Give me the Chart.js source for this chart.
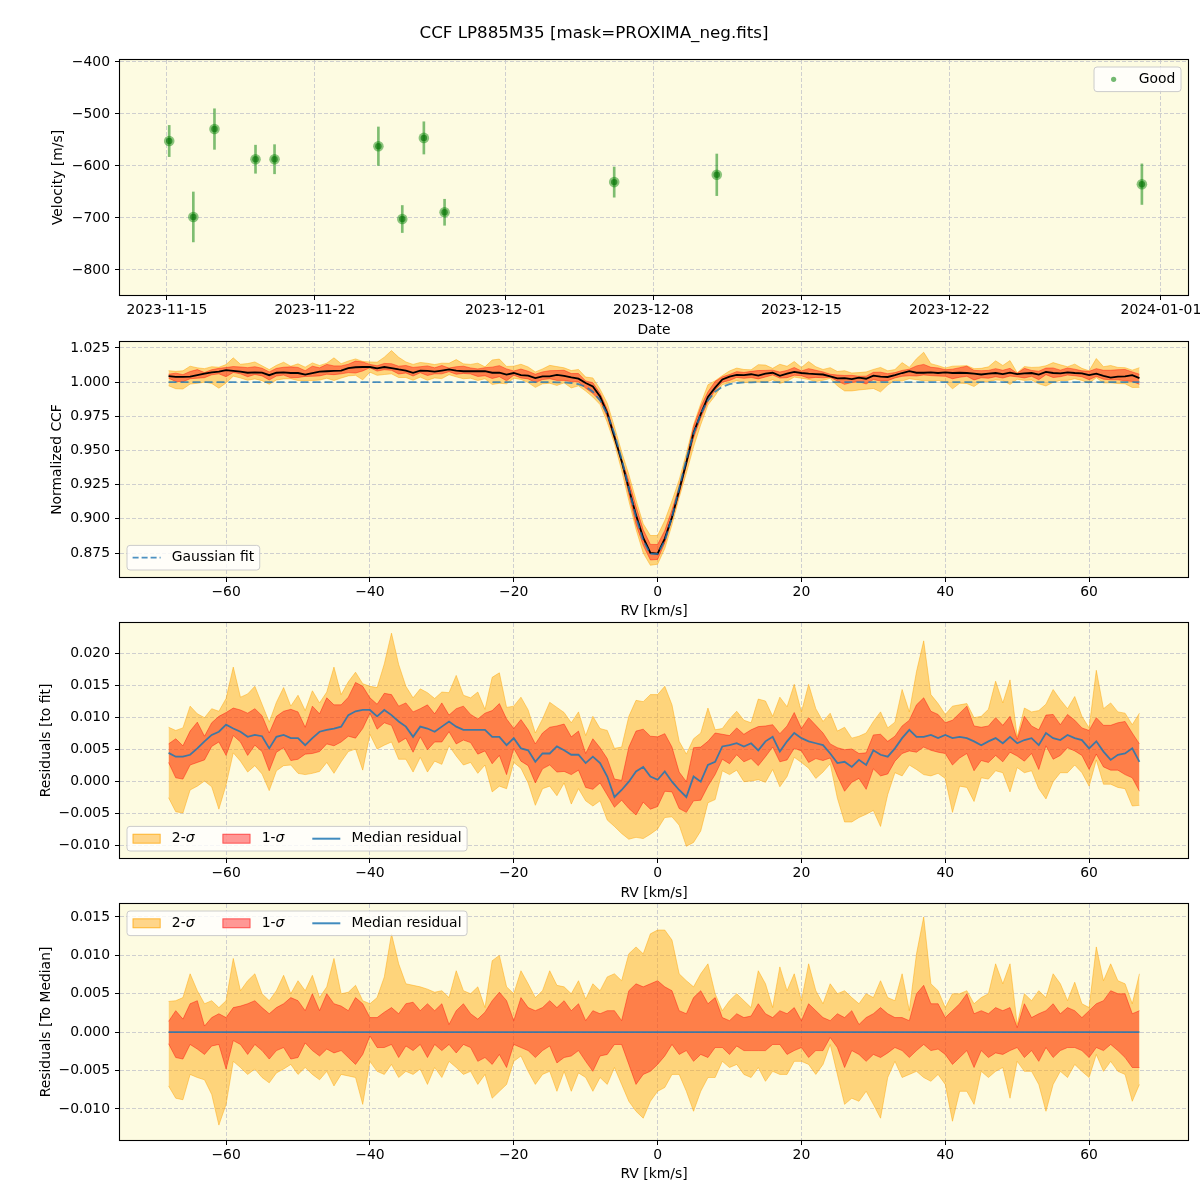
<!DOCTYPE html>
<html>
<head>
<meta charset="utf-8">
<script src="https://cdn.jsdelivr.net/npm/chart.js@4.4.0/dist/chart.umd.min.js"></script>
<style>
  body { margin: 0; background: #fff; }
  #wrap { position: relative; width: 1200px; height: 1200px; }
  canvas { position: absolute; left: 0; }
</style>
</head>
<body>
<div id="wrap">
  <canvas id="c1" width="1200" height="342" style="top:0px"></canvas>
  <canvas id="c2" width="1200" height="283" style="top:340px"></canvas>
  <canvas id="c3" width="1200" height="283" style="top:621px"></canvas>
  <canvas id="c4" width="1200" height="298" style="top:902px"></canvas>
</div>
<script>
// ---- panel 1: velocities per observation ----
var obsTimes = ['2023-11-15T02:38Z', '2023-11-16T06:00Z', '2023-11-17T06:00Z', '2023-11-19T04:34Z',
                '2023-11-20T02:10Z', '2023-11-25T00:00Z', '2023-11-26T03:07Z', '2023-11-27T03:36Z',
                '2023-11-28T03:07Z', '2023-12-06T03:36Z', '2023-12-11T00:00Z', '2023-12-31T02:24Z'];
var obsVel = [-552, -698, -529, -587, -587, -562, -702, -546, -689, -631, -617, -635];
var obsErr = [30, 48, 39, 27, 28, 37, 26, 31, 25, 29, 40, 39];
var dateTicks = ['2023-11-15', '2023-11-22', '2023-12-01', '2023-12-08', '2023-12-15', '2023-12-22', '2024-01-01'];
var velTicks = [-800, -700, -600, -500, -400];

// ---- panels 2-4: CCF on the RV grid [km/s] ----
var rvGrid = [-68,-67,-66,-65,-64,-63,-62,-61,-60,-59,-58,-57,-56,-55,-54,-53,-52,-51,-50,-49,
  -48,-47,-46,-45,-44,-43,-42,-41,-40,-39,-38,-37,-36,-35,-34,-33,-32,-31,-30,-29,
  -28,-27,-26,-25,-24,-23,-22,-21,-20,-19,-18,-17,-16,-15,-14,-13,-12,-11,-10,-9,
  -8,-7,-6,-5,-4,-3,-2,-1,0,1,2,3,4,5,6,7,8,9,10,11,
  12,13,14,15,16,17,18,19,20,21,22,23,24,25,26,27,28,29,30,31,
  32,33,34,35,36,37,38,39,40,41,42,43,44,45,46,47,48,49,50,51,
  52,53,54,55,56,57,58,59,60,61,62,63,64,65,66,67];

// Gaussian fit of the CCF
var ccfFit = [1,1,1,1,1,1,1,1,1,1,1,1,1,1,1,1,1,1,1,1,
  1,1,1,1,1,1,1,1,1,1,1,1,1,1,1,1,1,1,1,1,
  1,1,1,1,1,1,1,1,1,1,1,1,1,1,0.9999,0.9998,0.9994,0.9985,0.9966,0.9930,
  0.9867,0.9767,0.9623,0.9437,0.9223,0.9012,0.8840,0.8743,0.8743,0.8840,0.9012,0.9223,0.9437,0.9623,0.9767,0.9867,0.9930,0.9966,0.9985,0.9994,
  0.9998,0.9999,1,1,1,1,1,1,1,1,1,1,1,1,1,1,1,1,1,1,
  1,1,1,1,1,1,1,1,1,1,1,1,1,1,1,1,1,1,1,1,
  1,1,1,1,1,1,1,1,1,1,1,1,1,1,1,1];

// median residual to the fit, in units of 1e-3
var resMed = [4.4,3.8,3.8,4.1,5.1,6.2,7.2,7.7,8.8,8.2,7.7,6.9,7.2,7.0,5.1,6.9,7.2,6.7,6.7,5.6,
  6.7,7.7,8.0,8.2,8.5,10.3,10.9,11.1,11.1,10.1,11.1,10.3,9.3,8.5,6.9,8.5,8.2,7.7,8.5,9.3,
  8.5,8.0,8.0,8.0,8.0,6.9,6.9,5.6,6.7,5.1,4.8,3.0,4.3,4.3,5.4,4.8,4.1,4.1,2.8,3.8,
  2.8,0.7,-2.5,-1.4,-0.1,1.5,2.2,0.7,0.2,1.5,-0.1,-1.4,-2.5,0.7,-0.1,2.5,3.0,5.4,5.6,5.9,
  5.4,5.9,4.8,6.2,6.9,4.6,6.2,7.5,6.7,6.2,5.9,5.6,4.3,2.8,3.0,2.2,3.3,2.5,4.8,4.1,
  3.8,5.1,6.7,8.0,6.9,6.9,7.2,6.7,7.2,6.7,6.9,6.7,6.2,5.6,6.2,6.7,5.9,6.9,5.9,6.4,
  6.7,5.6,7.5,6.7,6.4,7.2,6.7,6.4,5.1,6.2,4.6,3.3,4.1,4.3,5.1,3.0];

// spread around the median, in units of 1e-3
var dev2Hi = [4.0,4.1,4.5,7.6,5.4,3.7,4.1,3.2,4.1,9.6,5.4,6.7,7.6,5.0,4.1,5.4,7.4,5.0,6.7,5.4,
  7.4,4.5,5.9,9.6,5.0,5.2,6.1,4.1,3.7,4.5,7.2,12.8,8.9,6.3,6.1,5.9,5.6,5.2,5.4,4.5,
  8.0,5.4,5.0,5.9,3.2,9.3,10.0,5.9,5.0,8.0,6.3,4.5,5.4,8.0,6.1,5.9,5.0,6.7,4.3,6.3,
  5.4,7.2,7.6,6.7,10.2,11.1,10.2,12.8,13.3,13.3,12.0,7.6,6.7,5.9,7.6,8.9,5.0,2.8,4.1,5.0,
  4.1,3.2,8.0,6.3,3.2,8.5,5.4,7.6,4.1,8.9,5.4,3.7,6.3,5.0,5.4,4.5,3.7,5.0,4.5,6.7,
  4.5,4.1,7.6,2.8,10.2,15.0,6.3,5.4,3.2,5.0,5.0,5.4,3.7,4.5,5.0,8.9,6.3,8.9,1.0,5.0,
  4.1,5.4,4.5,7.6,6.3,4.1,6.5,3.7,3.2,11.1,6.7,8.9,6.7,6.3,3.7,7.6];
var dev1Hi = [1.4,2.8,1.7,3.7,4.1,0.8,1.9,2.4,1.9,3.2,3.4,3.7,4.1,3.2,2.4,3.2,3.7,4.5,4.1,2.8,
  5.0,2.8,5.0,3.7,3.4,2.8,4.5,3.7,1.9,1.9,2.6,3.2,2.4,3.7,3.9,2.8,3.7,2.8,3.7,1.0,
  2.8,3.7,2.4,1.7,2.6,4.1,5.2,4.1,1.5,4.5,3.2,2.8,3.2,4.1,3.2,4.1,2.8,3.7,1.5,2.8,
  2.4,2.8,2.8,1.5,5.4,6.3,5.9,6.3,6.7,5.9,5.4,2.8,2.4,4.5,5.4,3.7,4.5,1.9,1.5,2.4,
  1.9,2.1,3.7,2.4,1.9,2.8,2.4,3.2,1.5,3.7,2.8,1.9,1.5,2.4,1.9,2.8,1.0,1.9,2.4,3.2,
  2.4,1.9,1.9,1.5,5.0,6.1,3.7,3.7,1.9,2.8,3.7,5.0,2.4,2.8,2.4,3.2,2.8,3.2,0.6,3.7,
  1.9,2.4,2.8,3.7,2.4,3.2,2.8,1.9,2.8,3.7,4.1,5.4,5.0,5.0,2.4,2.8];
var dev1Lo = [-1.5,-3.3,-3.5,-1.6,-2.2,-2.9,-1.8,-1.6,-4.8,-1.1,-1.6,-2.9,-1.6,-2.4,-3.5,-2.4,-2.0,-3.5,-3.3,-1.4,
  -2.4,-3.1,-2.2,-2.7,-2.4,-3.3,-4.2,-2.9,-0.5,-2.0,-2.0,-1.6,-3.3,-1.8,-2.4,-1.6,-3.3,-1.6,-2.4,-1.6,
  -2.7,-1.6,-2.0,-3.8,-3.3,-4.2,-2.9,-4.6,-1.6,-2.0,-2.4,-3.3,-2.4,-1.8,-4.0,-3.3,-3.1,-2.4,-3.8,-5.1,
  -3.1,-2.9,-1.6,-1.6,-4.2,-6.8,-5.5,-5.1,-4.2,-3.1,-1.6,-2.9,-2.4,-3.8,-2.9,-3.3,-2.0,-2.0,-2.9,-1.8,
  -2.4,-2.4,-2.4,-2.4,-1.6,-1.6,-2.9,-2.4,-2.0,-3.3,-2.4,-2.4,-0.7,-2.0,-4.6,-2.4,-2.9,-3.8,-2.9,-3.3,
  -2.7,-2.0,-2.4,-3.3,-2.4,-1.6,-2.4,-2.2,-2.9,-4.2,-3.3,-2.4,-4.6,-2.4,-3.3,-2.7,-2.9,-2.4,-2.0,-3.3,
  -2.4,-3.8,-2.0,-3.3,-2.4,-2.0,-2.0,-2.4,-3.3,-2.0,-2.4,-1.6,-2.4,-3.3,-4.6,-4.6];
var dev2Lo = [-7.0,-8.6,-8.8,-5.5,-5.9,-6.2,-8.1,-12.1,-9.4,-3.8,-4.6,-5.5,-4.8,-5.9,-6.6,-5.3,-4.8,-4.2,-5.5,-4.6,
  -5.5,-6.2,-5.1,-7.0,-5.5,-5.7,-5.9,-9.4,-3.8,-5.1,-5.5,-4.2,-5.9,-5.1,-5.5,-4.8,-6.8,-4.6,-5.9,-3.8,
  -4.6,-5.5,-5.1,-6.8,-5.5,-8.6,-7.7,-6.8,-3.8,-3.1,-5.1,-6.8,-5.5,-5.1,-7.7,-5.1,-7.7,-5.3,-5.9,-7.7,
  -5.9,-6.8,-4.6,-6.8,-9.0,-10.3,-11.2,-9.0,-7.7,-7.2,-5.5,-5.5,-7.7,-10.3,-7.7,-5.9,-5.9,-3.8,-4.6,-4.2,
  -5.5,-5.9,-4.6,-6.4,-5.1,-5.5,-5.5,-3.8,-3.8,-4.2,-5.5,-4.2,-1.6,-5.5,-9.4,-8.6,-9.0,-7.7,-9.4,-11.2,
  -5.9,-3.8,-5.9,-5.5,-5.1,-5.9,-6.4,-5.5,-6.8,-11.6,-7.7,-7.7,-9.4,-5.1,-5.9,-5.1,-4.6,-8.6,-3.8,-5.1,
  -5.1,-6.8,-10.3,-6.8,-5.1,-5.9,-4.2,-5.1,-5.9,-2.9,-5.1,-3.8,-5.1,-5.5,-9.0,-6.8];

var rvTicks = [-60, -40, -20, 0, 20, 40, 60];
var ccfTicks = [0.875, 0.900, 0.925, 0.950, 0.975, 1.000, 1.025];
var resTicks = [-0.010, -0.005, 0.000, 0.005, 0.010, 0.015, 0.020];
var medTicks = [-0.010, -0.005, 0.000, 0.005, 0.010, 0.015];

// ---- styling ----
var FS = 13.9;
var BG = '#fdfbe1';
var GRID = '#cfcfcf';
var C2S = 'rgba(255,165,0,0.45)';
var C1S = 'rgba(255,0,0,0.4)';
var CMED = 'rgba(31,119,180,0.85)';
var CFIT = 'rgba(31,119,180,0.8)';

Chart.defaults.font.family = 'DejaVu Sans';
Chart.defaults.font.size = FS;
Chart.defaults.color = '#000';
Chart.defaults.animation = false;

function minus(s) { return String(s).replace('-', '\u2212'); }

function gridOpts() {
  return { color: GRID, lineWidth: 1, tickColor: '#000', tickLength: 5, tickWidth: 1, offset: false };
}

function xAxis(min, max, ticks, labelFn, height, title, titlePad) {
  return {
    type: 'linear', min: min, max: max, offset: false,
    afterBuildTicks: function (s) { s.ticks = ticks.map(function (v) { return { value: v }; }); },
    afterFit: function (s) { s.height = height; s.paddingLeft = 0; s.paddingRight = 0; },
    ticks: { autoSkip: false, maxRotation: 0, padding: 2.5, callback: labelFn },
    grid: gridOpts(),
    border: { display: false, dash: [4, 2] },
    title: { display: true, text: title, padding: { top: 0, bottom: titlePad } }
  };
}

function yAxis(min, max, ticks, dec, title, titlePad) {
  return {
    type: 'linear', min: min, max: max, beginAtZero: false,
    afterBuildTicks: function (s) { s.ticks = ticks.map(function (v) { return { value: v }; }); },
    afterFit: function (s) { s.width = 120; s.paddingTop = 0; s.paddingBottom = 0; },
    ticks: { padding: 5, callback: function (v) { return minus(v.toFixed(dec)); } },
    grid: gridOpts(),
    border: { display: false, dash: [4, 2] },
    title: { display: true, text: title, padding: { top: titlePad, bottom: 0 } }
  };
}

// σ is set in italics, as matplotlib mathtext does
function segs(label) {
  var out = [], parts = label.split('σ');
  parts.forEach(function (p, i) {
    if (p) out.push([p, false]);
    if (i < parts.length - 1) out.push(['σ', true]);
  });
  return out;
}
function fontFor(it) { return (it ? 'italic ' : '') + FS + 'px "DejaVu Sans"'; }
function textWidth(c, label) {
  var w = 0;
  segs(label).forEach(function (s) { c.font = fontFor(s[1]); w += c.measureText(s[0]).width; });
  return w;
}
function drawText(c, label, x, y) {
  segs(label).forEach(function (s) { c.font = fontFor(s[1]); c.fillText(s[0], x, y); x += c.measureText(s[0]).width; });
}

function drawLegend(chart, leg) {
  var c = chart.ctx, a = chart.chartArea;
  var pad = 5.6, hl = 28, htp = 11.2, cs = 28, h = 24.6;
  c.save();
  var ws = leg.items.map(function (it) { return textWidth(c, it.label); });
  var w = pad * 2 + cs * (ws.length - 1);
  ws.forEach(function (wi) { w += hl + htp + wi; });
  var x0 = leg.loc.indexOf('right') >= 0 ? a.right - 7 - w : a.left + 7;
  var y0 = leg.loc.indexOf('upper') >= 0 ? a.top + 7 : a.bottom - 7 - h;
  c.beginPath();
  if (c.roundRect) c.roundRect(x0, y0, w, h, 3); else c.rect(x0, y0, w, h);
  c.fillStyle = 'rgba(255,255,255,0.8)';
  c.fill();
  c.strokeStyle = '#cccccc';
  c.lineWidth = 1;
  c.stroke();
  var cy = y0 + h / 2, x = x0 + pad;
  leg.items.forEach(function (it, i) {
    if (it.type === 'marker') {
      c.beginPath();
      c.arc(x + hl / 2, cy, 2.6, 0, Math.PI * 2);
      c.fillStyle = it.color;
      c.fill();
    } else if (it.type === 'line') {
      c.beginPath();
      c.setLineDash(it.dash || []);
      c.moveTo(x, cy); c.lineTo(x + hl, cy);
      c.strokeStyle = it.color; c.lineWidth = it.width;
      c.stroke();
      c.setLineDash([]);
    } else {
      c.fillStyle = it.color;
      c.fillRect(x, cy - 4.9, hl, 9.8);
      c.strokeStyle = it.edge; c.lineWidth = 1;
      c.strokeRect(x + 0.5, cy - 4.4, hl - 1, 8.8);
    }
    c.fillStyle = '#000';
    c.textBaseline = 'middle';
    c.textAlign = 'left';
    drawText(c, it.label, x + hl + htp, cy);
    x += hl + htp + ws[i] + cs;
  });
  c.restore();
}

function mplAxes(leg) {
  return {
    id: 'mplAxes',
    beforeDraw: function (chart) {
      var a = chart.chartArea, c = chart.ctx;
      c.save();
      c.fillStyle = BG;
      c.fillRect(a.left, a.top, a.right - a.left, a.bottom - a.top);
      c.restore();
    },
    afterDraw: function (chart) {
      var a = chart.chartArea, c = chart.ctx;
      c.save();
      c.strokeStyle = '#000';
      c.lineWidth = 1.1;
      var l = Math.round(a.left) - 0.5, t = Math.round(a.top) - 0.5;
      var r = Math.round(a.right) + 0.5, b = Math.round(a.bottom) + 0.5;
      c.strokeRect(l, t, r - l, b - t);
      c.restore();
      if (leg) drawLegend(chart, leg);
    }
  };
}

function line(data, color, width, extra) {
  var d = { type: 'line', data: data, borderColor: color, borderWidth: width, pointRadius: 0, tension: 0, fill: false };
  for (var k in extra) d[k] = extra[k];
  return d;
}
function band(data, color, fill) {
  return line(data, color, 1, { backgroundColor: color, fill: fill });
}

var K = 1e-3;
function pts(f) { return rvGrid.map(function (x, i) { return { x: x, y: f(i) }; }); }
function rvLabel(v) { return minus(v.toFixed(0)); }

var baseOpts = function () {
  return { responsive: false, animation: false, events: [],
           plugins: { legend: { display: false }, tooltip: { enabled: false } } };
};

// ---- panel 1 ----
var T0 = Date.parse('2023-11-15T00:00Z');
var tDays = obsTimes.map(function (t) { return (Date.parse(t) - T0) / 864e5; });
var dayTicks = dateTicks.map(function (d) { return (Date.parse(d + 'T00:00Z') - T0) / 864e5; });
var velPts = tDays.map(function (x, i) { return { x: x, y: obsVel[i] }; });

var o1 = baseOpts();
o1.layout = { padding: { top: 0, left: 0, right: 12, bottom: 0 } };
o1.plugins.title = { display: true, text: 'CCF LP885M35 [mask=PROXIMA_neg.fits]',
  font: { size: 16.7, weight: 'normal' }, padding: { top: 24, bottom: 15.96 } };
o1.scales = {
  x: xAxis(-2.217, 48.28, dayTicks, function (v, i) { return dateTicks[i]; }, 47, 'Date', 3.66),
  y: yAxis(-848.1, -396.2, velTicks, 0, 'Velocity [m/s]', 49.7)
};
new Chart(document.getElementById('c1'), {
  type: 'scatter',
  data: { datasets: [
    { type: 'scatter', data: velPts, pointRadius: 3.2, backgroundColor: 'rgba(0,110,0,0.6)', borderWidth: 0 },
    { type: 'scatter', data: velPts, pointRadius: 5.3, backgroundColor: 'rgba(0,128,0,0.45)', borderWidth: 0 },
    { type: 'bar', data: tDays.map(function (x, i) { return { x: x, y: [obsVel[i] - obsErr[i], obsVel[i] + obsErr[i]] }; }),
      backgroundColor: 'rgba(0,128,0,0.5)', borderWidth: 0, barThickness: 2 }
  ] },
  options: o1,
  plugins: [mplAxes({ loc: 'upper right', items: [{ type: 'marker', color: 'rgba(0,128,0,0.55)', label: 'Good' }] })]
});

// ---- panel 2: CCF = fit + residual ----
var o2 = baseOpts();
o2.layout = { padding: { top: 2, left: 0, right: 12, bottom: 0 } };
o2.scales = {
  x: xAxis(-74.75, 73.75, rvTicks, rvLabel, 46, 'RV [km/s]', 3.66),
  y: yAxis(0.85744, 1.02939, ccfTicks, 3, 'Normalized CCF', 48.7)
};
new Chart(document.getElementById('c2'), {
  type: 'line',
  data: { datasets: [
    line(pts(function (i) { return ccfFit[i]; }), CFIT, 1.8, { borderDash: [8, 4] }),
    line(pts(function (i) { return ccfFit[i] + resMed[i] * K; }), '#000', 1.8),
    band(pts(function (i) { return ccfFit[i] + (resMed[i] + dev1Hi[i]) * K; }), C1S, '+1'),
    band(pts(function (i) { return ccfFit[i] + (resMed[i] + dev1Lo[i]) * K; }), C1S, false),
    band(pts(function (i) { return ccfFit[i] + (resMed[i] + dev2Hi[i]) * K; }), C2S, '+1'),
    band(pts(function (i) { return ccfFit[i] + (resMed[i] + dev2Lo[i]) * K; }), C2S, false)
  ] },
  options: o2,
  plugins: [mplAxes({ loc: 'lower left', items: [{ type: 'line', color: CFIT, width: 1.8, dash: [6, 3], label: 'Gaussian fit' }] })]
});

var sigmaItems = [
  { type: 'patch', color: C2S, edge: 'rgba(255,165,0,0.6)', label: '2-σ' },
  { type: 'patch', color: C1S, edge: 'rgba(255,0,0,0.45)', label: '1-σ' },
  { type: 'line', color: CMED, width: 2, label: 'Median residual' }
];

// ---- panel 3: residuals to the fit ----
var o3 = baseOpts();
o3.layout = { padding: { top: 2, left: 0, right: 12, bottom: 0 } };
o3.scales = {
  x: xAxis(-74.75, 73.75, rvTicks, rvLabel, 46, 'RV [km/s]', 2.66),
  y: yAxis(-0.01203, 0.02469, resTicks, 3, 'Residuals [to fit]', 37.7)
};
new Chart(document.getElementById('c3'), {
  type: 'line',
  data: { datasets: [
    line(pts(function (i) { return resMed[i] * K; }), CMED, 1.8),
    band(pts(function (i) { return (resMed[i] + dev1Hi[i]) * K; }), C1S, '+1'),
    band(pts(function (i) { return (resMed[i] + dev1Lo[i]) * K; }), C1S, false),
    band(pts(function (i) { return (resMed[i] + dev2Hi[i]) * K; }), C2S, '+1'),
    band(pts(function (i) { return (resMed[i] + dev2Lo[i]) * K; }), C2S, false)
  ] },
  options: o3,
  plugins: [mplAxes({ loc: 'lower left', items: sigmaItems })]
});

// ---- panel 4: residuals to the median ----
var o4 = baseOpts();
o4.layout = { padding: { top: 2, left: 0, right: 12, bottom: 0 } };
o4.scales = {
  x: xAxis(-74.75, 73.75, rvTicks, rvLabel, 60, 'RV [km/s]', 17.66),
  y: yAxis(-0.01404, 0.01669, medTicks, 3, 'Residuals [To Median]', 37.7)
};
new Chart(document.getElementById('c4'), {
  type: 'line',
  data: { datasets: [
    line(pts(function (i) { return (resMed[i] - resMed[i]) * K; }), CMED, 1.8),
    band(pts(function (i) { return dev1Hi[i] * K; }), C1S, '+1'),
    band(pts(function (i) { return dev1Lo[i] * K; }), C1S, false),
    band(pts(function (i) { return dev2Hi[i] * K; }), C2S, '+1'),
    band(pts(function (i) { return dev2Lo[i] * K; }), C2S, false)
  ] },
  options: o4,
  plugins: [mplAxes({ loc: 'upper left', items: sigmaItems })]
});
</script>
</body>
</html>
